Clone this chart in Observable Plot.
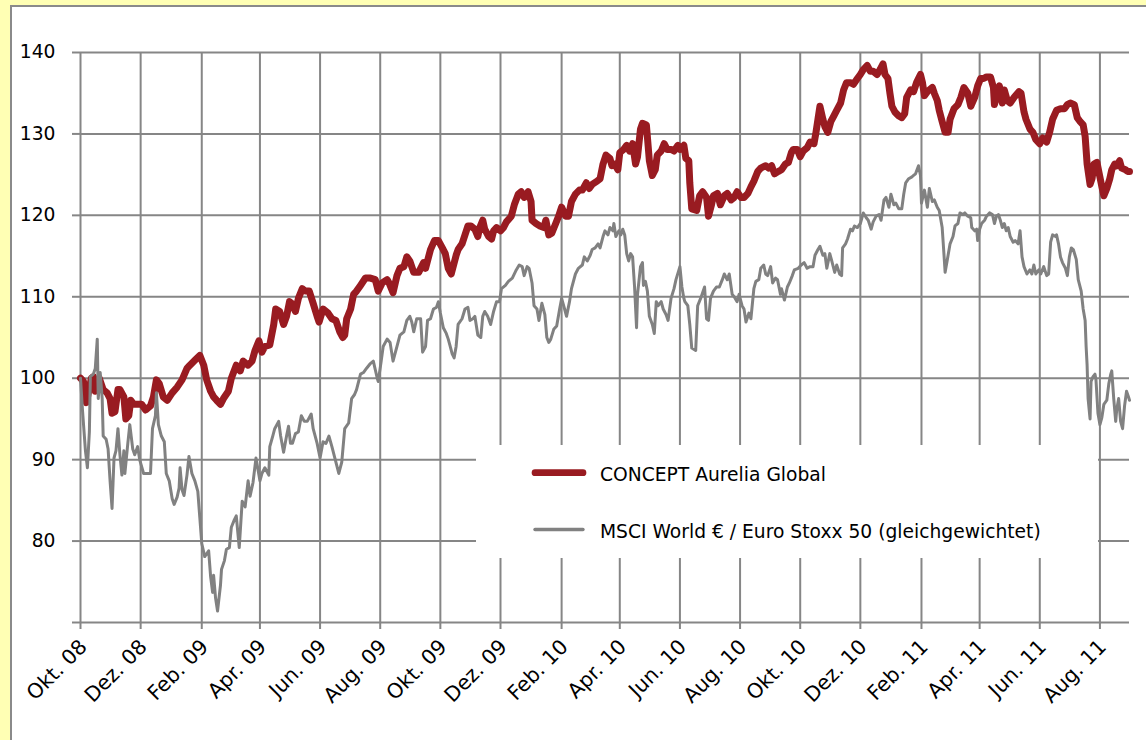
<!DOCTYPE html>
<html>
<head>
<meta charset="utf-8">
<script src="https://cdn.jsdelivr.net/npm/d3@7"></script>
<script src="https://cdn.jsdelivr.net/npm/@observablehq/plot@0.6"></script>
<style>
  html, body { margin: 0; padding: 0; background: #ffffb4; }
  #page { position: relative; width: 1146px; height: 740px; overflow: hidden; background: #ffffb4; font-family: "DejaVu Sans", Verdana, sans-serif; }
  #panel { position: absolute; left: 10px; top: 5px; width: 1200px; height: 800px; background: #fff; border-left: 2px solid #8a8a8a; border-top: 2px solid #8a8a8a; }
  #chart { position: absolute; left: 0; top: 0; }
  #legend { position: absolute; left: 476px; top: 445px; width: 622px; height: 113px; background: #fff; }
</style>
</head>
<body>
<div id="page">
  <div id="panel"></div>
  <div id="chart"></div>
  <div id="legend"></div>
</div>
<script>
// Series names (legend)
const seriesNames = ["CONCEPT Aurelia Global", "MSCI World € / Euro Stoxx 50 (gleichgewichtet)"];

// CONCEPT Aurelia Global: days since 2008-10-01 and index values
const fundDays = [
  0,3,6,8,11,13,15,19,23,27,
  30,32,35,38,40,44,46,49,51,54,
  59,62,66,71,74,77,80,84,88,93,
  98,103,108,111,116,121,125,128,132,135,
  138,142,145,150,153,158,162,165,170,174,
  177,181,184,187,192,196,198,202,206,209,
  212,214,218,221,225,228,232,236,240,242,
  246,251,255,259,263,266,268,270,274,277,
  280,284,289,294,299,302,306,311,313,317,
  321,324,328,331,334,338,343,348,350,355,
  359,363,367,370,373,376,378,381,383,387,
  390,393,396,400,403,405,408,410,414,417,
  419,422,426,429,432,437,440,444,447,450,
  454,457,458,462,466,470,472,475,478,482,
  485,488,492,495,498,502,506,509,513,516,
  519,524,527,530,533,537,539,542,545,547,
  551,554,557,560,563,565,568,570,574,577,
  580,583,585,589,592,595,599,602,606,608,
  612,614,617,618,620,625,628,631,635,637,
  640,642,646,649,653,656,660,663,666,670,
  673,677,680,683,687,690,695,698,701,704,
  708,711,715,718,721,723,727,730,733,737,
  740,744,746,748,750,753,755,758,761,764,
  767,771,774,777,781,784,788,791,794,798,
  801,804,808,811,814,816,819,821,823,826,
  830,833,836,838,842,845,848,852,854,856,
  859,861,864,866,869,871,874,877,880,882,
  886,890,893,896,900,903,907,910,913,916,
  919,923,926,927,930,932,935,937,940,943,
  947,952,954,957,959,963,966,969,973,976,
  980,983,986,990,994,998,1001,1004,1008,1011,
  1014,1017,1019,1021,1024,1026,1028,1031,1034,1036,
  1038,1041,1044,1046,1049,1051,1054,1056,1060,1062,1064
];
const fundValues = [
  100.0,99.6,97.0,98.2,100.0,100.2,98.4,100.0,98.6,98.2,
  97.5,95.7,95.9,98.6,98.6,97.7,95.0,95.4,97.3,96.8,
  96.8,96.8,96.1,96.6,97.7,99.8,99.3,97.7,97.3,98.2,
  98.9,99.8,101.2,101.6,102.2,102.8,101.6,99.8,98.4,97.7,
  97.3,96.8,97.5,98.4,100.0,101.6,100.9,102.1,101.6,102.1,
  103.4,104.6,103.2,103.9,104.1,106.6,108.5,108.2,106.6,107.6,
  109.4,109.2,108.2,109.8,111.0,110.7,110.7,109.2,107.6,106.9,
  108.5,108.0,107.3,107.1,105.7,105.0,105.3,107.3,108.5,110.3,
  110.7,111.4,112.3,112.3,112.1,110.7,111.7,112.1,111.7,110.5,
  112.6,113.5,113.7,114.9,114.4,113.0,113.0,114.2,113.5,115.8,
  116.9,116.9,116.0,115.3,113.5,112.8,113.7,115.1,115.8,116.5,
  117.6,118.7,118.7,118.3,117.4,118.5,119.4,118.3,117.4,117.1,
  118.1,118.5,118.1,118.5,119.2,119.9,121.3,122.6,122.9,122.2,
  122.9,121.7,119.4,119.0,118.7,118.5,119.4,117.6,117.8,119.0,
  119.9,121.0,119.9,119.9,121.7,122.6,123.1,123.1,124.0,123.3,
  123.8,124.2,124.5,126.3,127.4,127.0,126.1,126.3,125.6,127.7,
  128.1,128.6,127.9,128.8,126.3,127.2,130.6,131.3,131.1,126.7,
  124.9,125.6,127.4,127.9,128.8,128.1,128.1,127.9,128.6,128.1,
  128.6,127.0,126.7,124.0,120.8,120.6,122.4,122.9,122.2,119.9,
  121.3,122.4,122.7,121.3,122.4,122.7,121.9,122.2,122.9,122.2,
  122.2,122.7,123.5,124.2,125.4,125.8,126.1,125.8,126.1,125.1,
  125.4,125.6,126.3,126.5,127.7,128.1,128.1,127.2,127.9,128.3,
  129.0,128.8,130.2,131.8,133.4,131.8,130.9,130.2,131.5,132.2,
  132.9,133.8,135.4,136.3,136.3,136.1,136.8,137.3,137.9,138.4,
  137.7,137.7,137.3,137.9,138.6,137.3,136.8,135.0,133.4,132.7,
  132.2,132.0,132.5,134.5,135.4,135.2,136.3,137.3,136.3,134.7,
  135.2,135.4,135.7,135.0,134.1,132.9,131.5,130.2,130.2,131.8,
  133.1,133.6,134.5,135.7,135.0,133.4,134.5,135.9,136.8,136.8,
  137.0,137.0,135.7,133.6,135.0,135.9,133.8,135.4,134.1,133.8,
  134.5,135.2,135.0,132.7,131.8,130.6,130.2,129.3,128.8,129.5,
  129.0,130.2,131.8,132.9,133.1,133.1,133.6,133.8,133.6,132.0,
  131.5,131.1,129.7,126.3,123.8,124.5,126.3,126.5,124.7,123.5,
  122.4,123.3,124.5,125.6,126.3,126.1,126.7,125.8,125.6,125.4,125.4
];

// MSCI World € / Euro Stoxx 50 (equal weight): days since 2008-10-01 and index values
const benchDays = [
  0,2,5,7,9,10,13,15,17,18,
  20,22,23,26,28,30,32,34,36,38,
  40,42,44,45,48,50,53,55,58,60,
  64,67,71,73,76,77,79,82,85,87,
  90,93,95,98,100,101,103,105,108,110,
  113,116,119,121,123,126,130,132,134,135,
  137,139,142,143,146,148,151,153,156,158,
  161,164,167,170,172,175,178,182,184,187,
  191,192,195,197,201,203,206,209,211,213,
  215,218,221,224,227,230,234,236,240,243,
  246,249,252,255,258,262,265,268,272,275,
  278,280,284,287,290,294,297,301,302,305,
  307,311,314,317,321,324,328,331,334,336,
  338,341,345,347,350,352,355,358,361,363,
  365,368,371,373,375,377,379,381,383,387,
  390,393,395,398,400,403,406,408,410,413,
  416,419,422,425,427,431,434,438,442,445,
  448,450,453,455,458,460,463,465,468,471,
  473,475,477,480,483,486,488,491,493,496,
  498,502,505,509,511,514,517,519,522,525,
  527,530,532,535,537,540,541,543,546,548,
  550,552,554,556,558,560,562,564,565,568,
  570,571,573,575,577,580,582,584,586,589,
  591,594,596,599,602,604,607,608,610,612,
  613,616,618,620,624,626,629,631,633,635,
  637,639,642,645,648,651,653,656,658,661,
  663,666,668,671,673,675,678,680,683,685,
  688,690,693,695,697,700,702,705,707,710,
  711,714,717,719,722,724,728,731,734,737,
  740,743,745,748,750,753,755,757,760,762,
  765,767,770,772,773,776,778,781,783,785,
  788,791,794,797,799,802,804,807,810,812,
  815,817,820,822,825,827,830,833,835,837,
  840,843,845,847,850,852,853,856,859,861,
  864,866,869,871,874,875,877,879,882,885,
  887,890,892,895,897,900,903,904,907,909,
  910,912,914,917,919,922,925,927,929,931,
  933,935,937,939,941,943,946,948,951,953,
  955,957,960,963,965,967,969,972,974,977,
  980,982,984,986,989,990,992,994,996,999,
  1001,1003,1005,1007,1010,1012,1015,1017,1019,1020,
  1021,1022,1024,1025,1027,1029,1030,1032,1034,1036,
  1038,1041,1043,1045,1046,1048,1050,1051,1053,1055,
  1057,1059,1061,1063,1064
];
const benchValues = [
  100.0,96.1,91.1,89.0,93.4,100.2,100.5,101.2,104.8,97.5,
  100.7,97.5,92.9,92.5,91.3,87.4,84.0,90.2,91.1,93.8,
  90.6,88.1,91.1,88.3,92.0,94.3,91.3,90.6,91.6,90.0,
  88.3,88.3,88.3,93.8,95.4,98.2,94.3,92.9,92.2,88.3,
  87.4,85.2,84.5,85.4,86.5,89.0,86.3,85.6,88.1,90.4,
  88.3,87.4,86.1,82.9,79.7,78.1,78.8,75.6,73.7,75.8,
  73.0,71.4,74.6,76.5,77.6,79.0,79.2,81.7,82.6,83.1,
  79.2,84.9,84.2,87.4,85.5,87.2,90.2,87.4,88.3,89.0,
  88.1,91.6,92.9,93.8,94.7,92.9,90.9,92.9,94.1,92.0,
  92.0,93.2,93.4,95.4,94.7,94.7,95.6,93.8,92.0,90.2,
  92.2,92.0,92.9,91.6,90.2,88.3,89.7,93.8,94.5,97.5,
  98.0,98.6,100.5,100.7,101.2,101.8,102.1,100.0,99.6,102.1,
  103.9,104.8,104.4,102.1,103.9,105.3,105.7,107.1,107.6,106.9,
  105.7,107.3,107.3,103.2,103.9,107.1,107.3,108.5,108.7,109.4,
  108.0,106.2,105.5,104.8,103.9,103.0,102.5,103.9,106.6,107.3,
  108.5,108.7,107.1,107.3,107.6,105.3,105.0,107.6,108.2,107.6,
  106.6,108.2,109.4,109.4,111.0,111.4,111.9,112.3,113.3,113.9,
  113.7,112.6,113.7,113.5,111.7,108.9,108.5,107.1,109.2,107.8,
  105.0,104.4,104.8,106.0,106.4,108.5,109.8,108.5,107.6,109.4,
  111.0,112.8,113.5,113.9,114.9,114.4,115.1,115.8,116.0,116.5,
  116.0,117.4,118.1,117.6,118.5,118.1,119.0,117.4,118.1,117.6,
  118.3,117.6,115.3,114.4,115.3,114.9,111.2,106.2,110.3,113.7,
  114.2,111.4,111.9,110.7,107.6,106.6,105.5,109.4,108.9,109.4,
  108.5,107.8,107.1,109.8,111.0,112.1,113.3,113.7,111.2,109.8,
  109.4,108.9,106.6,103.7,103.4,108.9,109.8,110.5,111.2,107.3,
  107.1,109.8,110.7,111.2,111.2,112.1,112.8,112.1,112.8,110.3,
  110.0,109.4,110.3,108.9,108.5,106.9,108.0,107.3,111.0,111.9,
  112.1,113.5,113.9,112.8,112.6,113.7,111.7,112.3,112.1,110.3,
  111.0,109.6,111.2,111.7,112.6,113.3,113.5,113.9,114.2,113.5,
  113.7,113.7,115.1,115.8,116.2,115.1,115.3,113.5,115.3,114.4,
  113.0,113.9,112.8,112.6,116.0,116.5,117.1,118.3,118.1,118.7,
  118.5,119.0,120.3,119.7,119.4,118.3,119.2,119.9,120.1,119.4,
  121.9,122.2,121.0,122.6,121.3,121.5,120.8,120.8,122.6,124.0,
  124.5,124.7,124.9,125.1,126.1,124.9,121.5,123.1,121.0,123.3,
  121.7,121.9,121.0,120.6,118.5,116.7,113.0,114.4,116.5,117.4,
  118.7,119.0,120.3,120.1,120.3,119.9,119.7,118.5,118.1,118.3,
  116.9,118.3,119.0,119.4,119.9,120.3,120.1,119.0,119.9,120.1,
  119.4,118.5,119.0,118.1,118.5,117.4,116.7,116.9,116.5,118.1,
  114.9,113.7,112.8,113.3,112.8,113.9,112.8,113.3,112.8,113.7,
  112.6,112.8,116.7,117.6,117.4,117.6,116.5,114.9,114.2,113.5,
  112.6,114.9,116.0,115.8,114.6,112.1,110.7,108.5,107.1,103.9,
  101.6,97.5,95.0,99.6,100.2,100.5,99.8,95.7,94.3,95.2,
  96.8,97.3,99.3,100.5,100.9,97.5,94.7,96.1,97.5,94.7,
  93.8,96.6,98.4,97.7,97.3
];

// Axis ticks
const xTickDates = ["2008-10-01","2008-12-01","2009-02-01","2009-04-01","2009-06-01","2009-08-01",
  "2009-10-01","2009-12-01","2010-02-01","2010-04-01","2010-06-01","2010-08-01",
  "2010-10-01","2010-12-01","2011-02-01","2011-04-01","2011-06-01","2011-08-01"];
const xTickLabels = ["Okt. 08","Dez. 08","Feb. 09","Apr. 09","Jun. 09","Aug. 09",
  "Okt. 09","Dez. 09","Feb. 10","Apr. 10","Jun. 10","Aug. 10",
  "Okt. 10","Dez. 10","Feb. 11","Apr. 11","Jun. 11","Aug. 11"];
const yTicks = [70, 80, 90, 100, 110, 120, 130, 140];
const yTickLabels = ["", "80", "90", "100", "110", "120", "130", "140"];

const startMs = Date.UTC(2008, 9, 1);
const toDate = d => new Date(startMs + d * 864e5);
const fund = fundDays.map((d, i) => ({date: toDate(d), value: fundValues[i]}));
const bench = benchDays.map((d, i) => ({date: toDate(d), value: benchValues[i]}));
const xTicks = xTickDates.map(s => new Date(s + "T00:00:00Z"));
const xLabelOf = new Map(xTicks.map((d, i) => [+d, xTickLabels[i]]));
const yLabelOf = new Map(yTicks.map((v, i) => [v, yTickLabels[i]]));

const gridColor = "#868686";
const red = "#991b21";
const gray = "#818181";

const chart = Plot.plot({
  width: 1146,
  height: 740,
  marginLeft: 80,
  marginRight: 17,
  marginTop: 52,
  marginBottom: 118,
  style: {background: "transparent", fontFamily: "'DejaVu Sans', Verdana, sans-serif", fontSize: "18.7px", color: "black"},
  x: {type: "utc", domain: [toDate(0), toDate(1064)]},
  y: {domain: [70, 140]},
  marks: [
    Plot.gridY(yTicks, {stroke: gridColor, strokeOpacity: 1, strokeWidth: 2}),
    Plot.gridX(xTicks, {stroke: gridColor, strokeOpacity: 1, strokeWidth: 2}),
    Plot.axisY(yTicks, {tickSize: 8, tickPadding: 17, stroke: gridColor, strokeWidth: 2, fill: "black",
      fontSize: 18.7, tickFormat: v => yLabelOf.get(v), label: null}),
    // x tick marks only
    Plot.axisX(xTicks, {tickSize: 7, stroke: gridColor, strokeWidth: 2, tickFormat: () => "", label: null}),
    // x tick labels only, nudged right
    Plot.axisX(xTicks, {tickSize: 0, tickPadding: 21, tickRotate: -45, fill: "black", fontSize: 20.5, dx: 3,
      tickFormat: d => xLabelOf.get(+d), label: null}),
    Plot.line(fund, {x: "date", y: "value", stroke: red, strokeWidth: 7, strokeLinejoin: "round", strokeLinecap: "round"}),
    Plot.line(bench, {x: "date", y: "value", stroke: gray, strokeWidth: 3, strokeLinejoin: "round", strokeLinecap: "round"})
  ]
});
document.getElementById("chart").appendChild(chart);

// Legend
const legend = d3.select("#legend").append("svg").attr("width", 622).attr("height", 113);
const legendItems = [
  {name: seriesNames[0], color: red, width: 6.7, y: 27.7, ty: 36},
  {name: seriesNames[1], color: gray, width: 3.4, y: 84.5, ty: 92.5}
];
for (const it of legendItems) {
  legend.append("line").attr("x1", 59).attr("x2", 107).attr("y1", it.y).attr("y2", it.y)
    .attr("stroke", it.color).attr("stroke-width", it.width).attr("stroke-linecap", "round");
  legend.append("text").attr("x", 124).attr("y", it.ty).attr("font-size", 18.7)
    .attr("font-family", "'DejaVu Sans', Verdana, sans-serif").attr("fill", "black").text(it.name);
}
</script>
</body>
</html>
